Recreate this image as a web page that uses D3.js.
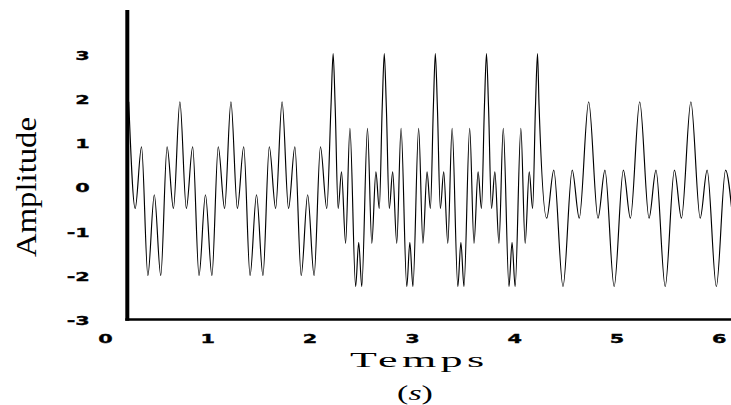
<!DOCTYPE html>
<html>
<head>
<meta charset="utf-8">
<script src="https://cdn.jsdelivr.net/npm/d3@7"></script>
<style>
  html, body { margin: 0; padding: 0; background: #fff; }
  svg { display: block; }
</style>
</head>
<body>
<svg id="chart" width="731" height="405"></svg>
<script>
// Signal turning points (time in s, amplitude) joined by a smooth monotone curve.
const time = [
  0.232, 0.295, 0.357, 0.419, 0.482, 0.545, 0.607, 0.669,
  0.732, 0.795, 0.857, 0.919, 0.982, 1.045, 1.107, 1.169,
  1.231, 1.294, 1.356, 1.418, 1.481, 1.544, 1.606, 1.668,
  1.731, 1.794, 1.856, 1.918, 1.981, 2.044, 2.106, 2.168,
  2.209,
  2.230, 2.250, 2.279, 2.312, 2.352, 2.394, 2.450, 2.480, 2.510, 2.566, 2.608, 2.648, 2.681, 2.710,
  2.730, 2.750, 2.779, 2.812, 2.852, 2.894, 2.950, 2.980, 3.010, 3.066, 3.108, 3.148, 3.181, 3.210,
  3.229, 3.249, 3.278, 3.311, 3.351, 3.393, 3.449, 3.479, 3.509, 3.565, 3.607, 3.647, 3.680, 3.709,
  3.729, 3.749, 3.778, 3.811, 3.851, 3.893, 3.949, 3.979, 4.009, 4.065, 4.107, 4.147, 4.180, 4.208,
  4.228, 4.243,
  4.318, 4.387, 4.477, 4.567, 4.636,
  4.728, 4.819, 4.887, 4.977, 5.067, 5.136,
  5.227, 5.318, 5.386, 5.476, 5.566, 5.635,
  5.727, 5.818, 5.886, 5.976, 6.066, 6.135
];
const amplitude = [
  1.94, -0.48, 0.92, -2.00, -0.17, -2.00, 0.92, -0.48,
  1.94, -0.48, 0.92, -2.00, -0.17, -2.00, 0.92, -0.48,
  1.94, -0.48, 0.92, -2.00, -0.17, -2.00, 0.92, -0.48,
  1.94, -0.48, 0.92, -2.00, -0.17, -2.00, 0.92, -0.48,
  1.83,
  3.03, 1.83, -0.48, 0.35, -1.27, 1.34, -2.25, -1.25, -2.25, 1.34, -1.27, 0.35, -0.48, 1.83,
  3.03, 1.83, -0.48, 0.35, -1.27, 1.34, -2.25, -1.25, -2.25, 1.34, -1.27, 0.35, -0.48, 1.83,
  3.03, 1.83, -0.48, 0.35, -1.27, 1.34, -2.25, -1.25, -2.25, 1.34, -1.27, 0.35, -0.48, 1.83,
  3.03, 1.83, -0.48, 0.35, -1.27, 1.34, -2.25, -1.25, -2.25, 1.34, -1.27, 0.35, -0.48, 1.83,
  3.03, 1.85,
  -0.70, 0.39, -2.25, 0.39, -0.70,
  1.94, -0.70, 0.39, -2.25, 0.39, -0.70,
  1.94, -0.70, 0.39, -2.25, 0.39, -0.70,
  1.94, -0.70, 0.39, -2.25, 0.39, -0.70
];

const xTickValues = [0, 1, 2, 3, 4, 5, 6];
const xTickLabels = ["0", "1", "2", "3", "4", "5", "6"];
const yTickValues = [-3, -2, -1, 0, 1, 2, 3];
const yTickLabels = ["-3", "-2", "-1", "0", "1", "2", "3"];
const xTitle = "Temps";
const xUnit = "s";
const yTitle = "Amplitude";

const W = 731, H = 405;
const svg = d3.select("#chart");
svg.append("rect").attr("width", W).attr("height", H).attr("fill", "#fff");

const x = d3.scaleLinear().domain([0, 6]).range([105, 718.8]);
const y = d3.scaleLinear().domain([-3, 4]).range([319.6, 10.9]);

const spineX = 127.3;      // left frame line
const spineTop = 10;
const baseY = 319.5;       // bottom frame line

// plotting area clip so the trace stays right of the left frame line
svg.append("clipPath").attr("id", "plot-area")
  .append("rect")
  .attr("x", spineX).attr("y", 0)
  .attr("width", W - spineX).attr("height", baseY);

const trace = d3.line()
  .x((d, i) => x(time[i]))
  .y(d => y(d))
  .curve(d3.curveMonotoneX);

svg.append("path")
  .datum(amplitude)
  .attr("d", trace)
  .attr("fill", "none")
  .attr("stroke", "#000")
  .attr("stroke-width", 1.15)
  .attr("stroke-linejoin", "round")
  .attr("clip-path", "url(#plot-area)");

// frame lines
svg.append("line")
  .attr("x1", spineX - 2).attr("x2", W)
  .attr("y1", baseY).attr("y2", baseY)
  .attr("stroke", "#000").attr("stroke-width", 2.6);
svg.append("line")
  .attr("x1", spineX).attr("x2", spineX)
  .attr("y1", spineTop).attr("y2", baseY + 1.3)
  .attr("stroke", "#000").attr("stroke-width", 4);

const tickFont = "'DejaVu Sans', sans-serif";
const sx = 1.6;

function styleTicks(sel) {
  sel.attr("font-family", tickFont)
    .attr("font-weight", "bold")
    .attr("font-size", 13)
    .attr("fill", "#000")
    .attr("stroke", "#000")
    .attr("stroke-width", 0.35)
    .attr("dy", "0.36em")
    .attr("transform", `scale(${sx},1)`);
}

// y axis tick labels
const yAxis = svg.append("g")
  .attr("transform", `translate(${spineX},0)`)
  .call(d3.axisLeft(y)
    .tickValues(yTickValues)
    .tickFormat((d, i) => yTickLabels[i])
    .tickSize(0)
    .tickPadding(38));
yAxis.select(".domain").remove();
yAxis.selectAll("text")
  .call(styleTicks)
  .attr("x", -37.5 / sx);

// x axis tick labels
const xAxis = svg.append("g")
  .attr("transform", `translate(0,${baseY})`)
  .call(d3.axisBottom(x)
    .tickValues(xTickValues)
    .tickFormat((d, i) => xTickLabels[i])
    .tickSize(0)
    .tickPadding(18.5));
xAxis.select(".domain").remove();
xAxis.selectAll("text")
  .call(styleTicks)
  .attr("y", 18.5)
  .attr("x", 0);

// axis titles
const titleFont = "'Liberation Serif', 'Times New Roman', serif";
svg.append("text")
  .attr("transform", "translate(36,187) rotate(-90)")
  .attr("text-anchor", "middle")
  .attr("font-family", titleFont)
  .attr("font-size", 29)
  .attr("textLength", 140)
  .attr("lengthAdjust", "spacingAndGlyphs")
  .attr("fill", "#000")
  .text(yTitle);

// x title: wide lettering from a horizontal stretch plus a little tracking
const stretch = 2.2;
const tracking = 2;
svg.append("text")
  .attr("transform", `translate(${417 + tracking * stretch / 2},367) scale(${stretch},1)`)
  .attr("text-anchor", "middle")
  .attr("font-family", titleFont)
  .attr("font-size", 20)
  .attr("letter-spacing", tracking)
  .attr("fill", "#000")
  .text(xTitle);

const unit = svg.append("text")
  .attr("transform", `translate(415,400) scale(1.7,1)`)
  .attr("text-anchor", "middle")
  .attr("font-family", titleFont)
  .attr("font-size", 20)
  .attr("fill", "#000");
unit.append("tspan").text("(");
unit.append("tspan").attr("font-style", "italic").text(xUnit);
unit.append("tspan").text(")");
</script>
</body>
</html>
